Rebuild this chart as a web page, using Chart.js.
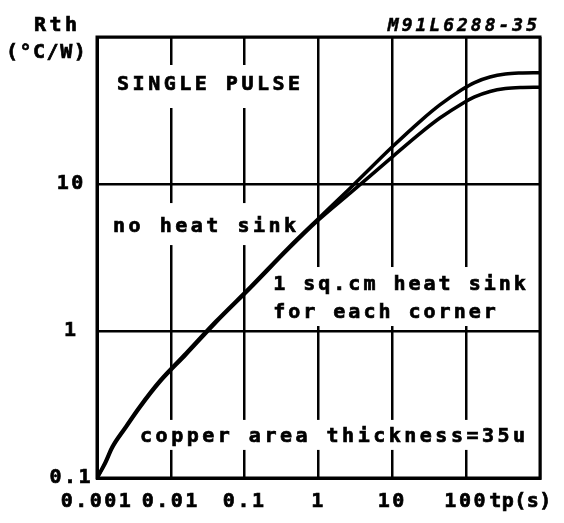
<!DOCTYPE html>
<html>
<head>
<meta charset="utf-8">
<script src="https://cdn.jsdelivr.net/npm/chart.js@4.4.1/dist/chart.umd.min.js"></script>
<style>
  html, body { margin: 0; padding: 0; background: #fff; }
  canvas { display: block; }
</style>
</head>
<body>
<canvas id="rth" width="564" height="523"></canvas>
<script>
// Pulse duration tp (s)
const pulseTimes = [0.001, 0.0013, 0.0016, 0.0024, 0.0038, 0.007, 0.016, 0.04, 0.12, 0.4, 1, 2.7, 10, 24, 44, 88, 130, 210, 340, 540, 1000];
// Transient thermal resistance (°C/W), no heat sink
const rthNoSink = [0.1, 0.129, 0.163, 0.221, 0.308, 0.456, 0.706, 1.155, 2.0, 3.73, 5.83, 9.4, 17.9, 26.8, 34.5, 43.9, 49.0, 53.4, 56.0, 56.9, 57.2];
// Transient thermal resistance (°C/W), 1 sq.cm copper heat sink for each corner
const rthSink = [0.1, 0.126, 0.159, 0.216, 0.301, 0.446, 0.69, 1.13, 1.96, 3.65, 5.69, 8.7, 15.3, 22.2, 28.1, 35.2, 39.1, 42.6, 44.6, 45.35, 45.55];

const xTickValues = [0.001, 0.01, 0.1, 1, 10, 100, 1000];
const xTickLabels = ['0.001', '0.01', '0.1', '1', '10', '100', ''];
const yTickValues = [0.1, 1, 10, 100];
const yTickLabels = ['0.1', '1', '10', ''];

const FONT_FAMILY = "'DejaVu Sans Mono', 'Liberation Mono', monospace";
const FONT = `bold 20px ${FONT_FAMILY}`;
const SPACING = '3.5px';      // notes and captions
const TICK_SPACING = '2.5px'; // axis tick labels

// Notes inside the plot, anchored at (tp, Rth); each sits on a white patch
const notes = [
  { lines: ['SINGLE PULSE'], t: 0.00187, r: 43.6, gap: 0, padTop: 25, padBottom: 18, spacing: SPACING },
  { lines: ['no heat sink'], t: 0.00165, r: 4.71, gap: 0, padTop: 29, padBottom: 13, spacing: SPACING },
  { lines: ['1 sq.cm heat sink', 'for each corner'], t: 0.243, r: 1.90, gap: 28, padTop: 23, padBottom: 8, spacing: '3px' },
  { lines: ['copper area thickness=35u'], t: 0.00383, r: 0.176, gap: 0, padTop: 22, padBottom: 8, spacing: SPACING }
];

const points = (ys) => pulseTimes.map((t, i) => ({ x: t, y: ys[i] }));

// filled and lightly outlined text, for a heavier plotter-pen look
function penText(ctx, s, x, y) {
  ctx.fillText(s, x, y);
  ctx.strokeText(s, x, y);
}

const plotterText = {
  id: 'plotterText',
  beforeUpdate(chart) { chart.ctx.letterSpacing = TICK_SPACING; },
  beforeDraw(chart) {
    const ctx = chart.ctx;
    ctx.save();
    ctx.fillStyle = '#fff';
    ctx.fillRect(0, 0, chart.width, chart.height);
    ctx.restore();
    ctx.letterSpacing = TICK_SPACING;
  },
  beforeDatasetsDraw(chart) {
    const { ctx, scales: { x, y } } = chart;
    ctx.save();
    ctx.font = FONT;
    ctx.textAlign = 'left';
    ctx.textBaseline = 'alphabetic';
    ctx.strokeStyle = '#000';
    ctx.lineWidth = 0.7;
    notes.forEach(n => {
      ctx.letterSpacing = n.spacing;
      const px = x.getPixelForValue(n.t);
      const py = y.getPixelForValue(n.r);
      const w = Math.max(...n.lines.map(s => ctx.measureText(s).width));
      const lastBase = py + (n.lines.length - 1) * n.gap;
      ctx.fillStyle = '#fff';
      ctx.fillRect(px - 6, py - n.padTop, w + 8, lastBase + n.padBottom - (py - n.padTop));
      ctx.fillStyle = '#000';
      n.lines.forEach((s, i) => penText(ctx, s, px, py + i * n.gap));
    });
    ctx.restore();
  },
  afterDatasetsDraw(chart) {
    const { ctx, chartArea: a, scales: { x } } = chart;
    ctx.save();
    // plot frame
    ctx.strokeStyle = '#000';
    ctx.lineWidth = 3;
    ctx.strokeRect(a.left, a.top, a.right - a.left, a.bottom - a.top);
    // axis captions
    ctx.lineWidth = 0.7;
    ctx.fillStyle = '#000';
    ctx.font = FONT;
    ctx.letterSpacing = SPACING;
    ctx.textAlign = 'left';
    ctx.textBaseline = 'alphabetic';
    penText(ctx, 'Rth', 34, a.top - 6);
    ctx.letterSpacing = '1.5px';
    penText(ctx, '(°C/W)', 6, a.top + 21);
    ctx.letterSpacing = '0.5px';
    ctx.textBaseline = 'middle';
    penText(ctx, 'tp(s)', x.getPixelForValue(100) + 23, a.bottom + 12 + 12);
    // figure code
    ctx.font = `italic bold 18px ${FONT_FAMILY}`;
    ctx.letterSpacing = '3px';
    ctx.textAlign = 'right';
    ctx.textBaseline = 'alphabetic';
    ctx.lineWidth = 0.5;
    penText(ctx, 'M91L6288-35', a.right, a.top - 6);
    ctx.restore();
  }
};

const lineStyle = {
  borderColor: '#000',
  borderWidth: 3.5,
  pointRadius: 0,
  fill: false,
  cubicInterpolationMode: 'monotone'
};

const tickFont = { family: FONT_FAMILY, size: 20, weight: 'bold' };

new Chart(document.getElementById('rth'), {
  type: 'line',
  data: {
    datasets: [
      { label: 'no heat sink', data: points(rthNoSink), ...lineStyle },
      { label: '1 sq.cm heat sink for each corner', data: points(rthSink), ...lineStyle }
    ]
  },
  options: {
    responsive: false,
    devicePixelRatio: 1,
    animation: false,
    layout: { padding: { top: 37, right: 24, left: 0, bottom: 0 } },
    plugins: { legend: { display: false }, tooltip: { enabled: false } },
    scales: {
      x: {
        type: 'logarithmic',
        min: 0.001,
        max: 1000,
        afterBuildTicks(scale) { scale.ticks = xTickValues.map(v => ({ value: v })); },
        afterFit(scale) { scale.height = 45; },
        ticks: {
          color: '#000',
          font: tickFont,
          padding: 12,
          maxRotation: 0,
          autoSkip: false,
          textStrokeColor: '#000',
          textStrokeWidth: 0.7,
          callback: (v, i) => xTickLabels[i]
        },
        grid: { color: '#000', lineWidth: 2.5, drawTicks: false },
        border: { color: '#000', width: 3 }
      },
      y: {
        type: 'logarithmic',
        min: 0.1,
        max: 100,
        afterBuildTicks(scale) { scale.ticks = yTickValues.map(v => ({ value: v })); },
        afterFit(scale) { scale.width = 97; },
        ticks: {
          color: '#000',
          font: tickFont,
          padding: 4,
          crossAlign: 'center',
          autoSkip: false,
          textStrokeColor: '#000',
          textStrokeWidth: 0.7,
          callback: (v, i) => yTickLabels[i]
        },
        grid: { color: '#000', lineWidth: 2.5, drawTicks: false },
        border: { color: '#000', width: 3 }
      }
    }
  },
  plugins: [plotterText]
});
</script>
</body>
</html>
